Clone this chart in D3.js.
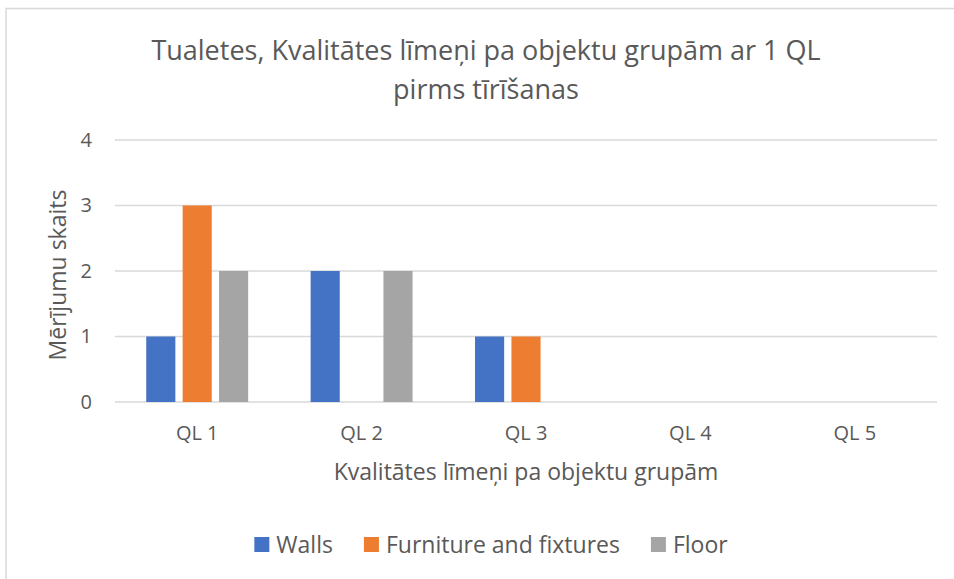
<!DOCTYPE html>
<html>
<head>
<meta charset="utf-8">
<script src="https://cdn.jsdelivr.net/npm/d3@7"></script>
<style>
  body { margin: 0; background: #fff; }
  svg text { font-family: "Open Sans", "Liberation Sans", sans-serif; fill: #595959; }
</style>
</head>
<body>
<svg id="chart" width="954" height="579"></svg>
<script>
// data
const categories = ['QL 1', 'QL 2', 'QL 3', 'QL 4', 'QL 5'];
const seriesNames = ['Walls', 'Furniture and fixtures', 'Floor'];
const walls = [1, 2, 1, 0, 0];
const furniture = [3, 0, 1, 0, 0];
const floor = [2, 2, 0, 0, 0];
const yTicks = [0, 1, 2, 3, 4];
const colors = ['#4472C4', '#ED7D31', '#A5A5A5'];
const titleLines = ['Tualetes, Kvalitātes līmeņi pa objektu grupām ar 1 QL', 'pirms tīrīšanas'];
const xTitle = 'Kvalitātes līmeņi pa objektu grupām';
const yTitle = 'Mērījumu skaits';

const svg = d3.select('#chart');
const plot = { left: 115, right: 937, top: 140, bottom: 402 };

// chart border
svg.append('rect')
  .attr('x', 6).attr('y', 8.5)
  .attr('width', 960).attr('height', 590)
  .attr('fill', '#fff')
  .attr('stroke', '#d9d9d9').attr('stroke-width', 1.5);

// title
svg.selectAll('.title').data(titleLines).enter()
  .append('text')
    .attr('class', 'title')
    .attr('x', 486)
    .attr('y', (d, i) => 60 + i * 39)
    .attr('text-anchor', 'middle')
    .attr('font-size', '27px')
    .text(d => d);

// scales
const x0 = d3.scaleBand().domain(categories).range([plot.left, plot.right]);
const groupW = x0.bandwidth() * 0.62;
const x1 = d3.scaleBand().domain(seriesNames).range([0, groupW]).paddingInner(0.2);
const y = d3.scaleLinear().domain([0, 4]).range([plot.bottom, plot.top]);

// gridlines
svg.append('g')
  .selectAll('line').data(yTicks).enter()
  .append('line')
    .attr('x1', plot.left).attr('x2', plot.right)
    .attr('y1', d => y(d)).attr('y2', d => y(d))
    .attr('stroke', '#d9d9d9').attr('stroke-width', 1.5);

// y axis labels
const yAxis = svg.append('g')
  .attr('transform', 'translate(' + (plot.left - 8) + ',0)')
  .call(d3.axisLeft(y).tickValues(yTicks).tickSize(0).tickPadding(15).tickFormat(d3.format('d')));
yAxis.select('.domain').remove();
yAxis.attr('font-size', null).attr('font-family', null);
yAxis.selectAll('text').attr('font-size', '20px');

// x axis labels
const xAxis = svg.append('g')
  .attr('transform', 'translate(0,' + plot.bottom + ')')
  .call(d3.axisBottom(x0).tickSize(0).tickPadding(24));
xAxis.select('.domain').remove();
xAxis.attr('font-size', null).attr('font-family', null);
xAxis.selectAll('text').attr('font-size', '20px');

// bars
const seriesData = [walls, furniture, floor];
const groups = svg.append('g').selectAll('g').data(categories).enter()
  .append('g')
    .attr('transform', d => 'translate(' + (x0(d) + (x0.bandwidth() - groupW) / 2) + ',0)');

groups.selectAll('rect')
  .data((c, ci) => seriesNames.map((s, si) => ({ s: s, si: si, v: seriesData[si][ci] })))
  .enter()
  .append('rect')
    .attr('x', d => x1(d.s))
    .attr('y', d => y(d.v))
    .attr('width', x1.bandwidth())
    .attr('height', d => y(0) - y(d.v))
    .attr('fill', d => colors[d.si]);

// axis titles
svg.append('text')
  .attr('x', (plot.left + plot.right) / 2)
  .attr('y', 480)
  .attr('text-anchor', 'middle')
  .attr('font-size', '23px')
  .text(xTitle);

svg.append('text')
  .attr('transform', 'translate(66,' + ((plot.top + plot.bottom) / 2 + 4) + ') rotate(-90)')
  .attr('text-anchor', 'middle')
  .attr('font-size', '23px')
  .text(yTitle);

// legend
const legend = svg.append('g');
let lx = 0;
seriesNames.forEach((name, i) => {
  const item = legend.append('g').attr('transform', 'translate(' + lx + ',0)');
  item.append('rect')
    .attr('x', 0).attr('y', -8)
    .attr('width', 15).attr('height', 15)
    .attr('fill', colors[i]);
  const t = item.append('text')
    .attr('x', 22).attr('y', 8)
    .attr('font-size', '23px')
    .text(name);
  lx += 22 + t.node().getComputedTextLength() + 31;
});
lx -= 31;
legend.attr('transform', 'translate(' + (491 - lx / 2) + ',545)');
</script>
</body>
</html>
